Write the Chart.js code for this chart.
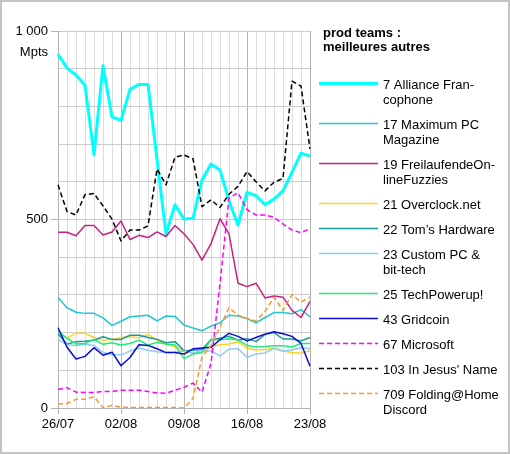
<!DOCTYPE html>
<html>
<head>
<meta charset="utf-8">
<script src="https://cdn.jsdelivr.net/npm/chart.js@4/dist/chart.umd.min.js"></script>
<style>
  html, body { margin: 0; padding: 0; background: #fff; }
  #wrap { position: relative; width: 510px; height: 454px; }
</style>
</head>
<body>
<div id="wrap"><canvas id="chart"></canvas></div>
<script>
  const DATES = [
    "26/07", "27/07", "28/07", "29/07", "30/07", "31/07", "01/08",
    "02/08", "03/08", "04/08", "05/08", "06/08", "07/08", "08/08",
    "09/08", "10/08", "11/08", "12/08", "13/08", "14/08", "15/08",
    "16/08", "17/08", "18/08", "19/08", "20/08", "21/08", "22/08", "23/08",
  ];

  const LEGEND_TITLE = ["prod teams :", "meilleures autres"];
  const Y_UNIT = "Mpts";

  // legend names, already broken into lines like the original
  const NAMES = [
    ["7 Alliance Fran-", "cophone"],
    ["17 Maximum PC", "Magazine"],
    ["19 FreilaufendeOn-", "lineFuzzies"],
    ["21 Overclock.net"],
    ["22 Tom\u2019s Hardware"],
    ["23 Custom PC &", "bit-tech"],
    ["25 TechPowerup!"],
    ["43 Gridcoin"],
    ["67 Microsoft"],
    ["103 In Jesus' Name"],
    ["709 Folding@Home", "Discord"],
  ];

  const ALLIANCE = [938, 902, 883, 856, 672, 908, 772, 763, 845, 858, 858, 660, 462, 539, 501, 503, 605, 647, 631, 550, 485, 572, 563, 539, 554, 576, 625, 676, 668];
  const MAXIMUM_PC = [293, 266, 254, 251, 251, 239, 219, 230, 242, 244, 246, 231, 244, 243, 220, 212, 205, 217, 226, 246, 244, 237, 226, 240, 253, 253, 250, 261, 242];
  const FREILAUFENDE = [466, 466, 457, 484, 484, 459, 467, 496, 447, 458, 452, 467, 455, 484, 462, 434, 392, 436, 502, 462, 331, 322, 331, 292, 297, 294, 259, 240, 283];
  const OVERCLOCK = [195, 186, 198, 198, 187, 180, 182, 187, 189, 186, 195, 180, 169, 163, 150, 145, 147, 163, 168, 170, 176, 158, 154, 155, 159, 151, 147, 145, 152];
  const TOMS = [197, 169, 176, 177, 180, 189, 182, 182, 193, 193, 187, 182, 173, 176, 152, 153, 155, 182, 185, 190, 180, 184, 176, 195, 200, 183, 183, 178, 187];
  const CUSTOM_PC = [182, 168, 166, 169, 166, 147, 141, 141, 151, 159, 153, 149, 147, 148, 151, 146, 152, 151, 138, 156, 157, 135, 143, 146, 158, 151, 154, 160, 157];
  const TECHPOWERUP = [204, 185, 170, 171, 182, 169, 173, 167, 171, 180, 167, 174, 170, 167, 131, 143, 147, 181, 181, 184, 181, 166, 162, 163, 165, 165, 162, 171, 171];
  const GRIDCOIN = [213, 161, 130, 137, 160, 140, 148, 112, 134, 168, 166, 157, 147, 147, 143, 157, 159, 161, 181, 198, 190, 178, 187, 196, 202, 197, 190, 171, 111];
  const MICROSOFT = [49, 54, 42, 41, 41, 44, 44, 47, 47, 47, 44, 40, 39, 47, 55, 66, 42, 118, 330, 557, 571, 526, 512, 512, 506, 488, 472, 465, 476];
  const IN_JESUS_NAME = [592, 521, 512, 566, 569, 536, 501, 443, 472, 472, 483, 634, 592, 665, 671, 661, 534, 552, 532, 567, 588, 627, 600, 576, 599, 609, 867, 854, 687];
  const FOLDING_DISCORD = [11, 12, 23, 23, 30, 1, 7, 2, 1, 1, 1, 1, 1, 1, 0, 25, 135, 165, 215, 266, 246, 237, 231, 256, 294, 259, 301, 281, 294];

  const FONT = "'Liberation Sans', Arial, sans-serif";
  Chart.defaults.font.family = FONT;
  Chart.defaults.font.size = 13;
  Chart.defaults.color = "#000";

  const GRID_MAJOR = "#b3b3b3";
  const GRID_MINOR = "#dddddd";

  function series(data, color, width, dashed, idx) {
    return {
      data: data,
      borderColor: color,
      borderWidth: width,
      borderDash: dashed ? [5, 3] : [],
      borderJoinStyle: "round",
      pointRadius: 0,
      pointHoverRadius: 0,
      tension: 0,
      fill: false,
      // later series sit on top, as in the original
      order: 20 - idx,
    };
  }

  const datasets = [
    series(ALLIANCE, "#00ffff", 3, false, 0),
    series(MAXIMUM_PC, "#1ec8d2", 1.5, false, 1),
    series(FREILAUFENDE, "#c8217f", 1.5, false, 2),
    series(OVERCLOCK, "#ffd320", 1.5, false, 3),
    series(TOMS, "#1a9a96", 1.5, false, 4),
    series(CUSTOM_PC, "#8ccdee", 1.5, false, 5),
    series(TECHPOWERUP, "#22ea7a", 1.5, false, 6),
    series(GRIDCOIN, "#0c0cd0", 1.5, false, 7),
    series(MICROSOFT, "#ff00ff", 1.5, true, 8),
    series(IN_JESUS_NAME, "#000000", 1.5, true, 9),
    series(FOLDING_DISCORD, "#ff9526", 1.5, true, 10),
  ];

  // frame + white background, legend on the right, unit label under "1 000"
  const decorPlugin = {
    id: "decor",
    beforeDraw(chart) {
      const ctx = chart.ctx;
      ctx.save();
      ctx.fillStyle = "#fff";
      ctx.fillRect(0, 0, chart.width, chart.height);
      ctx.strokeStyle = "#c4c4c4";
      ctx.lineWidth = 2;
      ctx.strokeRect(1, 1, chart.width - 2, chart.height - 2);
      ctx.restore();
    },
    afterDraw(chart) {
      const ctx = chart.ctx;
      ctx.save();
      ctx.fillStyle = "#000";
      ctx.textBaseline = "middle";

      ctx.textAlign = "right";
      ctx.font = "13px " + FONT;
      ctx.fillText(Y_UNIT, chart.chartArea.left - 10, 52);

      ctx.textAlign = "left";
      ctx.font = "bold 13px " + FONT;
      LEGEND_TITLE.forEach(function (line, k) {
        ctx.fillText(line, 323, 33 + k * 14.5);
      });

      ctx.font = "13px " + FONT;
      let y = 83.5;
      chart.data.datasets.forEach(function (ds, i) {
        ctx.strokeStyle = ds.borderColor;
        ctx.lineWidth = ds.borderWidth;
        ctx.setLineDash(ds.borderDash);
        ctx.beginPath();
        ctx.moveTo(319, y);
        ctx.lineTo(378, y);
        ctx.stroke();
        ctx.setLineDash([]);
        NAMES[i].forEach(function (line, k) {
          ctx.fillText(line, 383, y + 2 + k * 14.7);
        });
        y += 25 + 15 * (NAMES[i].length - 1);
      });
      ctx.restore();
    },
  };

  new Chart(document.getElementById("chart"), {
    type: "line",
    data: { labels: DATES, datasets: datasets },
    plugins: [decorPlugin],
    options: {
      responsive: true,
      maintainAspectRatio: false,
      animation: false,
      events: [],
      layout: { padding: { top: 31, right: 200, left: 0, bottom: 0 } },
      plugins: {
        legend: { display: false },
        tooltip: { enabled: false },
      },
      scales: {
        x: {
          offset: false,
          afterFit: function (scale) { scale.height = 46; },
          border: { color: GRID_MAJOR },
          grid: {
            color: function (c) { return c.index % 7 === 0 ? GRID_MAJOR : GRID_MINOR; },
            tickColor: function (c) { return c.index % 7 === 0 ? GRID_MAJOR : "rgba(0,0,0,0)"; },
            tickLength: 6,
          },
          ticks: {
            autoSkip: false,
            maxRotation: 0,
            padding: 3,
            callback: function (value, index) {
              return index % 7 === 0 ? DATES[index] : "";
            },
          },
        },
        y: {
          min: 0,
          max: 1000,
          afterFit: function (scale) { scale.width = 58; },
          border: { color: GRID_MAJOR },
          grid: {
            color: "#cccccc",
            tickColor: function (c) {
              return c.tick && c.tick.value % 500 === 0 ? GRID_MAJOR : "rgba(0,0,0,0)";
            },
            tickLength: 7,
          },
          ticks: {
            stepSize: 100,
            padding: 3,
            callback: function (v) {
              if (v % 500 !== 0) return "";
              return v === 1000 ? "1 000" : String(v);
            },
          },
        },
      },
    },
  });
</script>
</body>
</html>
